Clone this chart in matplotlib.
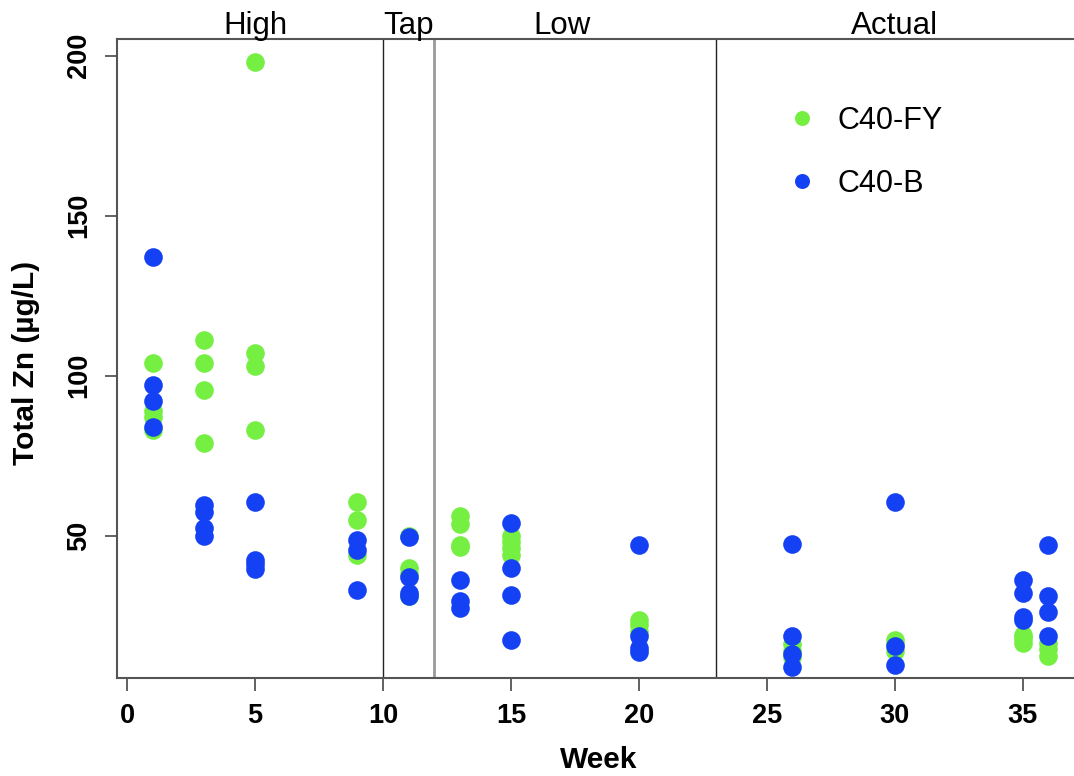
import matplotlib
matplotlib.use("Agg")
import matplotlib.pyplot as plt
from matplotlib.lines import Line2D

plt.rcParams['font.family'] = ['Liberation Sans', 'DejaVu Sans']

# ---- data ----
fy_weeks = [1]*4 + [3]*4 + [5]*4 + [9]*3 + [11]*4 + [13]*4 + [15]*4 + [20]*3 + [26]*3 + [30]*3 + [35]*3 + [36]*3
fy_zn = [104, 89, 87, 83,
         111, 104, 95.5, 79,
         198, 107, 103, 83,
         60.5, 55, 44,
         50, 40, 38, 31,
         56, 53.5, 47, 46.5,
         50, 48, 46, 44,
         23.5, 22, 20,
         16, 14, 12,
         17.5, 16, 14,
         19, 18, 16.5,
         16.5, 14.5, 12.5]

b_weeks = [1]*4 + [3]*4 + [5]*4 + [9]*3 + [11]*4 + [13]*3 + [15]*4 + [20]*4 + [26]*4 + [30]*3 + [35]*4 + [36]*4
b_zn = [137, 97, 92, 84,
        59.5, 57.5, 52.5, 50,
        60.5, 42.5, 41, 39.5,
        48.5, 45.5, 33,
        49.5, 37, 32, 31,
        36, 29.5, 27.5,
        54, 40, 31.5, 17.5,
        47, 18.5, 15, 13.5,
        47.5, 18.5, 13, 9,
        60.5, 15.5, 9.5,
        36, 32, 24.5, 23.5,
        47, 31, 26, 18.5]

period_breaks = [10, 12, 23]
period_labels = ["High", "Tap", "Low", "Actual"]
period_label_x = [5, 11, 17, 30]
series_names = ["C40-FY", "C40-B"]

x_ticks = [0, 5, 10, 15, 20, 25, 30, 35]
y_ticks = [50, 100, 150, 200]

green = "#76EF43"
blue = "#1541F5"

# ---- figure ----
W, H = 1074, 776
fig = plt.figure(figsize=(W/100, H/100), dpi=100)
ax_left, ax_right = 117.3, 1074.0
ax_top, ax_bot = 39.0, 678.3
ax = fig.add_axes([ax_left/W, (H-ax_bot)/H, (ax_right-ax_left)/W, (ax_bot-ax_top)/H])

ax.scatter(fy_weeks, fy_zn, s=180, color=green, linewidths=0, zorder=3)
ax.scatter(b_weeks, b_zn, s=180, color=blue, linewidths=0, zorder=4)

ax.axvline(period_breaks[0], color="#222222", lw=1.0, zorder=2)
ax.axvline(period_breaks[1], color="#999999", lw=2.0, zorder=2)
ax.axvline(period_breaks[2], color="#222222", lw=1.0, zorder=2)

ax.set_xlim(-0.38, 37.0)
ax.set_ylim(5.4, 205.2)

for sp in ['left', 'top', 'bottom']:
    ax.spines[sp].set_color("#555555")
    ax.spines[sp].set_linewidth(1.5)
ax.spines['right'].set_visible(False)

ax.set_xticks(x_ticks)
ax.set_yticks(y_ticks)
ax.tick_params(axis='both', direction='out', length=9, width=1.3, color="#555555",
               labelsize=19.5)
ax.tick_params(axis='x', pad=9)
ax.tick_params(axis='y', pad=9)
for lab in ax.get_xticklabels() + ax.get_yticklabels():
    lab.set_fontweight('bold')
for lab in ax.get_yticklabels():
    lab.set_rotation(90)
    lab.set_va('center')

ax.set_xlabel("Week", fontsize=21.5, fontweight='bold')
ax.xaxis.set_label_coords(0.5035, -0.106)
ax.set_ylabel("Total Zn (µg/L)", fontsize=21.5, fontweight='bold')
ax.yaxis.set_label_coords(-0.081, 0.493)

for lx, lt in zip(period_label_x, period_labels):
    ax.annotate(lt, xy=(lx, 1.0), xycoords=('data', 'axes fraction'),
                xytext=(0, 3.6), textcoords='offset points',
                ha='center', va='baseline', fontsize=22.5, annotation_clip=False)

handles = [Line2D([], [], ls='none', marker='o', ms=10.8, mfc=green, mec='none'),
           Line2D([], [], ls='none', marker='o', ms=10.8, mfc=blue, mec='none')]
leg = ax.legend(handles, series_names, loc='upper left',
                bbox_to_anchor=(787/W, (H-106)/H), bbox_transform=fig.transFigure,
                frameon=False, fontsize=22, handlelength=1.0, handletextpad=0.64,
                labelspacing=1.08, borderpad=0, borderaxespad=0)

fig.savefig("out.png", dpi=100)
